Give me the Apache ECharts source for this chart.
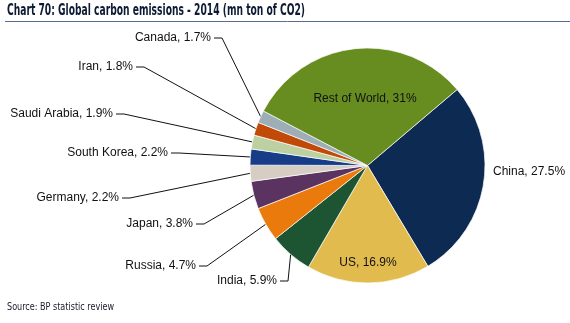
<!DOCTYPE html>
<html>
<head>
<meta charset="utf-8">
<script src="https://cdn.jsdelivr.net/npm/echarts@6/dist/echarts.min.js"></script>
<style>
html,body{margin:0;padding:0;background:#fff;}
#c{width:570px;height:323px;}
</style>
</head>
<body>
<div id="c"></div>
<script>
// ---- data ----
const countries = ['China', 'US', 'India', 'Russia', 'Japan', 'Germany', 'South Korea', 'Saudi Arabia', 'Iran', 'Canada', 'Rest of World'];
const shares = [27.5, 16.9, 5.9, 4.7, 3.8, 2.2, 2.2, 1.9, 1.8, 1.7, 31];
const sliceColors = ['#0c2a52', '#e2bb4e', '#1d5533', '#ea7a0c', '#5a3360', '#d6cdc3', '#173c88', '#bdd0a2', '#c24a08', '#9eaeb6', '#678c1f'];
const titleText = 'Chart 70: Global carbon emissions - 2014 (mn ton of CO2)';
const sourceText = 'Source: BP statistic review';

// ---- label placement (layout, not data) ----
// [x, y, align, hasLine]
const labelSpots = {
  'China': [493, 172, 'left', false],
  'US': [368, 263, 'center', false],
  'Rest of World': [365, 99, 'center', false],
  'India': [277, 281, 'right', true],
  'Russia': [196, 266, 'right', true],
  'Japan': [193, 224, 'right', true],
  'Germany': [119, 198, 'right', true],
  'South Korea': [168, 153, 'right', true],
  'Saudi Arabia': [113, 114, 'right', true],
  'Iran': [133, 67, 'right', true],
  'Canada': [211, 38, 'right', true]
};

const font = '"Liberation Sans", Arial, sans-serif';
const titleFont = 'bold 15px "DejaVu Sans Condensed", "Liberation Sans", sans-serif';
const sourceFont = '10px "DejaVu Sans Condensed", "Liberation Sans", sans-serif';

function fitScale(text, f, target) {
  const ctx = document.createElement('canvas').getContext('2d');
  ctx.font = f;
  const w = ctx.measureText(text).width;
  return w > 0 ? target / w : 1;
}

const chart = echarts.init(document.getElementById('c'));
chart.setOption({
  animation: false,
  backgroundColor: '#fff',
  graphic: [
    {type: 'text', x: 7, y: 4, scaleX: fitScale(titleText, titleFont, 298),
     style: {text: titleText, font: titleFont, fill: '#0d1a33'}},
    {type: 'line', shape: {x1: 5, y1: 21.5, x2: 570, y2: 21.5}, style: {stroke: '#5a6f90', lineWidth: 1}},
    {type: 'text', x: 7, y: 302, scaleX: fitScale(sourceText, sourceFont, 107),
     style: {text: sourceText, font: sourceFont, fill: '#1a1a2a'}}
  ],
  series: [{
    type: 'pie',
    center: [367.5, 165.5],
    radius: 117.5,
    startAngle: 40.3,
    clockwise: true,
    avoidLabelOverlap: false,
    itemStyle: {borderColor: '#fff', borderWidth: 0.7},
    label: {
      show: true,
      position: 'outside',
      formatter: '{b}, {c}%',
      fontFamily: font,
      fontSize: 12,
      color: '#111'
    },
    labelLine: {show: true, length: 10, length2: 8, lineStyle: {color: '#111', width: 1}},
    emphasis: {disabled: true},
    data: countries.map((n, i) => ({
      name: n,
      value: shares[i],
      itemStyle: {color: sliceColors[i]},
      labelLine: {show: labelSpots[n][3]}
    })),
    labelLayout: function (p) {
      const n = countries[p.dataIndex];
      const s = labelSpots[n];
      const out = {x: s[0], y: s[1], align: s[2], verticalAlign: 'middle'};
      if (s[3] && p.labelLinePoints) {
        const a = p.labelLinePoints[0];
        out.labelLinePoints = [[a[0], a[1]], [s[0] + 11, s[1]], [s[0] + 3, s[1]]];
      }
      return out;
    }
  }]
});
</script>
</body>
</html>
